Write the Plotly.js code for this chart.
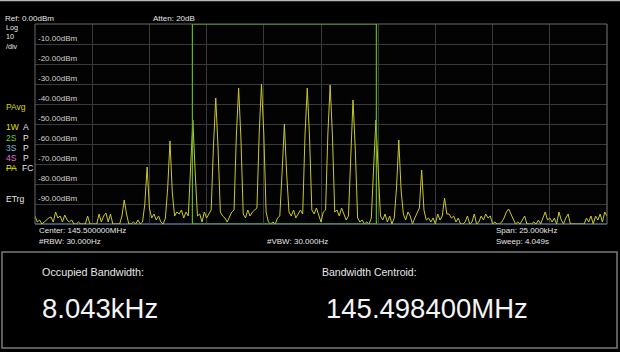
<!DOCTYPE html>
<html>
<head>
<meta charset="utf-8">
<script src="https://cdn.plot.ly/plotly-3.0.1.min.js"></script>
<style>
html,body{margin:0;padding:0;background:#000;}
#chart{width:620px;height:352px;}
</style>
</head>
<body>
<div id="chart"></div>
<script>
// ---- data ----
const centerMHz = 145.5;
const spanKHz = 25;
const stepKHz = 0.1;
// trace amplitude (dBm), one sample every 0.1 kHz from -12.5 kHz to +12.5 kHz
const ampDbm = [
 -96, -99, -98, -100, -99, -98, -97, -96.5, -99, -94,
 -97, -96, -99, -95.5, -98, -99, -98, -100, -100, -99,
 -100, -100, -100, -96, -100, -100, -100, -100, -95, -99,
 -96, -94.5, -99, -95, -100, -100, -100, -100, -96, -88,
 -95, -100, -100, -99, -100, -98, -100, -99, -90, -71.5,
 -92, -97, -95, -98, -96, -99, -100, -97, -82, -58.5,
 -84, -96, -94, -95, -93, -97, -94, -96, -72, -48,
 -74, -96, -95, -99, -94, -97, -95, -93, -61, -37,
 -62, -94, -96, -97, -99, -96, -94, -93, -56, -32,
 -57, -95, -97, -93, -96, -94, -93, -92, -54, -30,
 -55, -94, -99, -100, -99, -100, -97, -96, -74, -50,
 -75, -94, -96, -93, -97, -95, -93, -95, -56, -32,
 -57, -93, -95, -92, -96, -99, -94, -93, -55, -30.5,
 -56, -94, -93, -96, -92, -95, -98, -96, -62, -38,
 -63, -97, -99, -98, -100, -99, -100, -97, -72, -48,
 -73, -96, -98, -95, -99, -96, -100, -97, -82, -58,
 -83, -95, -98, -94, -96, -100, -97, -94, -92, -73,
 -93, -98, -97, -99, -97, -100, -95, -98, -96, -87,
 -95, -95, -97, -96, -99, -97, -100, -100, -99, -96,
 -100, -99, -95, -100, -99, -96, -98, -95, -97, -96,
 -100, -99, -100, -100, -99, -97, -94, -92.5, -95, -98,
 -100, -99, -100, -98, -96, -100, -100, -100, -99, -100,
 -98, -100, -97, -94, -98, -97, -99, -97, -100, -94,
 -98, -100, -97, -95, -100, -100, -100, -100, -100, -100,
 -100, -97, -99, -96, -100, -96, -98, -95, -99, -94,
 -96
];
const refLevelDbm = 0;
const bottomDbm = -100;
const gridLevels = [-10, -20, -30, -40, -50, -60, -70, -80, -90];
const gridLabels = ["-10.00dBm","-20.00dBm","-30.00dBm","-40.00dBm","-50.00dBm","-60.00dBm","-70.00dBm","-80.00dBm","-90.00dBm"];
const obwEdgesKHz = [-5.62, 2.42];
const occupiedBandwidth = "8.043kHz";
const bandwidthCentroid = "145.498400MHz";

// ---- build ----
const halfSpan = spanKHz / 2;
const freqKHz = ampDbm.map((_, i) => -halfSpan + i * stepKHz);

// plot area in pixels
const PL = 35, PR = 607, PT = 24, PB = 224;
const px = v => (v - PL) / (PR - PL);
const py = v => (PB - v) / (PB - PT);

const FONT = "Arial, 'Liberation Sans', sans-serif";
const annotations = [];
function txt(text, x, y, size, color, xanchor, yanchor) {
  annotations.push({
    text: text, xref: 'paper', yref: 'paper', x: px(x), y: py(y),
    xanchor: xanchor || 'left', yanchor: yanchor || 'middle', showarrow: false, align: 'left',
    font: {family: FONT, size: size, color: color || '#e6e6e6'}
  });
}

gridLevels.forEach((lv, i) => {
  annotations.push({
    text: gridLabels[i], xref: 'paper', yref: 'y', x: 0, y: lv,
    xanchor: 'left', yanchor: 'bottom', xshift: 1, yshift: -1, showarrow: false,
    font: {family: FONT, size: 8, color: '#cfcfcf'}
  });
});

txt("Ref: 0.00dBm", 3, 18.5, 8);
txt("Atten: 20dB", 151, 18.5, 8);
txt("Log<br>10<br>/div", 4, 36.5, 7.2);
txt("PAvg", 4, 107, 8.5, '#d8d800');
txt("1W", 4, 127, 8.5, '#e0e000');
txt("A", 21, 127, 8.5);
txt("2S", 4, 138, 8.5, '#7ccc22');
txt("P", 21, 138, 8.5);
txt("3S", 4, 148, 8.5, '#88b8d8');
txt("P", 21, 148, 8.5);
txt("4S", 4, 158, 8.5, '#e070d8');
txt("P", 21, 158, 8.5);
txt("<s>PA</s>", 4, 168, 8.5, '#d8d800');
txt("FC", 20, 168, 8.5);
txt("ETrg", 4, 199, 8.5);
txt("Center: " + centerMHz.toFixed(6) + "MHz", 37, 230, 8);
txt("Span: " + spanKHz.toFixed(3) + "kHz", 494, 230, 8);
txt("#RBW: 30.000Hz", 37, 241.5, 8);
txt("#VBW: 30.000Hz", 265, 241.5, 8);
txt("Sweep: 4.049s", 494, 241.5, 8);
txt("Occupied Bandwidth:", 40, 272, 10.8);
txt("Bandwidth Centroid:", 320, 272, 10.5);
txt(occupiedBandwidth, 40, 308, 27.5, '#f4f4f4');
txt(bandwidthCentroid, 324, 308, 27.5, '#f4f4f4');

const shapes = [
  // top strip line
  {type:'line', xref:'paper', yref:'paper', x0:px(0), x1:px(620), y0:py(0.5), y1:py(0.5), line:{color:'#b8b8b8', width:1.5}},
  // plot frame
  {type:'line', xref:'paper', yref:'paper', x0:0, x1:1, y0:1, y1:1, line:{color:'#6a6a6a', width:1}},
  {type:'line', xref:'paper', yref:'paper', x0:1, x1:1, y0:0, y1:1, line:{color:'#7a7a7a', width:1}},
  {type:'line', xref:'paper', yref:'paper', x0:0, x1:0, y0:0, y1:1, line:{color:'#6a6a6a', width:1}},
  {type:'line', xref:'paper', yref:'paper', x0:0, x1:1, y0:0, y1:0, line:{color:'#5a6e90', width:1.5}, layer:'below'},
  // occupied bandwidth box
  {type:'rect', xref:'x', yref:'y', x0:obwEdgesKHz[0], x1:obwEdgesKHz[1], y0:bottomDbm, y1:refLevelDbm,
   line:{color:'#5fb41e', width:1.2}, layer:'above'},
  // lower info panel
  {type:'rect', xref:'paper', yref:'paper', x0:px(2), x1:px(617), y0:py(348), y1:py(252), line:{color:'#7a7a7a', width:1.5}}
];

const trace = {
  x: freqKHz, y: ampDbm, type: 'scatter', mode: 'lines',
  line: {color: '#c9c92a', width: 1}, hoverinfo: 'skip', cliponaxis: true
};

const layout = {
  width: 620, height: 352,
  margin: {l: PL, r: 620 - PR, t: PT, b: 352 - PB, pad: 0},
  paper_bgcolor: '#000000', plot_bgcolor: '#030303',
  showlegend: false,
  xaxis: {range: [-halfSpan, halfSpan], dtick: 2.5, tick0: -halfSpan, showticklabels: false,
          gridcolor: '#3a3a3a', gridwidth: 1, zeroline: false, showline: false, ticks: '', fixedrange: true},
  yaxis: {range: [bottomDbm, refLevelDbm], dtick: 10, tick0: 0, showticklabels: false,
          gridcolor: '#3a3a3a', gridwidth: 1, zeroline: false, showline: false, ticks: '', fixedrange: true},
  annotations: annotations,
  shapes: shapes
};

Plotly.newPlot('chart', [trace], layout, {displayModeBar: false, staticPlot: true});
</script>
</body>
</html>
